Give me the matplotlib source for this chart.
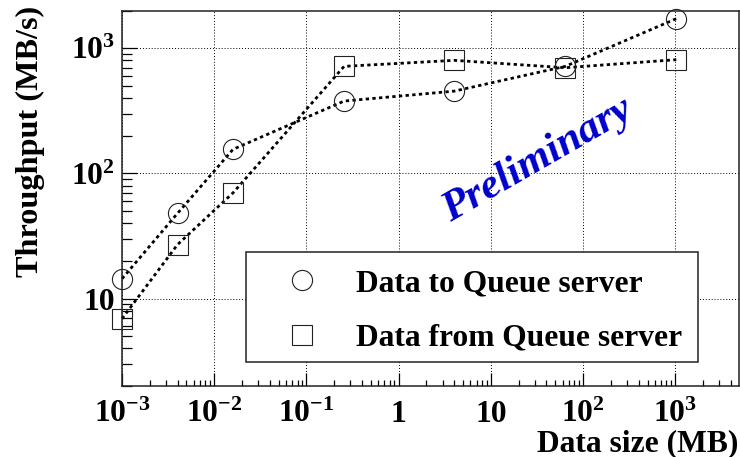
import matplotlib
matplotlib.use("Agg")
import matplotlib.pyplot as plt
import numpy as np
from matplotlib.lines import Line2D
from matplotlib.patches import Rectangle
from matplotlib.ticker import LogLocator, FuncFormatter, NullFormatter

plt.rcParams["font.family"] = ["Liberation Serif", "DejaVu Serif"]
plt.rcParams["font.weight"] = "bold"
plt.rcParams["mathtext.fontset"] = "custom"
plt.rcParams["mathtext.rm"] = "Liberation Serif:bold"
plt.rcParams["mathtext.it"] = "Liberation Serif:bold:italic"
plt.rcParams["mathtext.bf"] = "Liberation Serif:bold"

# data size in MB
data_size = [0.001, 0.004, 0.016, 0.256, 4, 64, 1024]
# throughput in MB/s
to_queue = [14.4, 48, 156, 379, 455, 718, 1727]
from_queue = [6.9, 27, 70, 718, 802, 700, 812]

series_labels = ["Data to Queue server", "Data from Queue server"]

W, H = 740, 457
FS = 22.7


def log_label(v, pos):
    e = int(round(np.log10(v)))
    if e == 0:
        return "1"
    if e == 1:
        return "10"
    return r"$10^{%d}$" % e


fig = plt.figure(figsize=(W / 100, H / 100), dpi=100)
ax = fig.add_axes([122 / W, (H - 386) / H, (739 - 122) / W, (386 - 10.7) / H])

line_style = dict(color="black", linestyle=(0, (1.2, 1.2)), linewidth=2.0)
mark_style = dict(markerfacecolor="none", markeredgecolor="#222222",
                  markeredgewidth=0.8, clip_on=False)

ax.plot(data_size, to_queue, marker="o", markersize=14.5, **line_style, **mark_style)
ax.plot(data_size, from_queue, marker="s", markersize=14, **line_style, **mark_style)

ax.set_xscale("log")
ax.set_yscale("log")
ax.set_xlim(1e-3, 4.9e3)
ax.set_ylim(2.0, 2000)

for axis in (ax.xaxis, ax.yaxis):
    axis.set_major_locator(LogLocator(base=10, numticks=20))
    axis.set_minor_locator(LogLocator(base=10, subs=np.arange(2, 10), numticks=20))
    axis.set_major_formatter(FuncFormatter(log_label))
    axis.set_minor_formatter(NullFormatter())

ax.tick_params(axis="both", which="both", direction="in", top=False, right=False,
               labelsize=FS, colors="black")
ax.tick_params(axis="x", which="major", length=9.5, width=0.9, pad=10)
ax.tick_params(axis="x", which="minor", length=4.3, width=0.9)
ax.tick_params(axis="y", which="major", length=10.8, width=0.9, pad=5)
ax.tick_params(axis="y", which="minor", length=7.5, width=0.9)

ax.grid(True, which="major", color="black", linestyle=(0, (1, 2)), linewidth=0.7)
for s in ax.spines.values():
    s.set_linewidth(1.1)
    s.set_color("#222222")

fig.text(30 / W, 1 - 6 / H, "Throughput (MB/s)", rotation=90, ha="center", va="top",
         fontsize=23.2)
fig.text(738 / W, 1 - 451 / H, "Data size (MB)", ha="right", va="baseline",
         fontsize=FS)

fig.text(538 / W, 1 - 160 / H, "Preliminary", rotation=30, ha="center", va="center",
         rotation_mode="anchor", fontsize=31, fontstyle="italic", color="#0000CC")

# legend box
fig.patches.append(Rectangle((246 / W, 1 - 362 / H), (698 - 246) / W, (362 - 252) / H,
                             transform=fig.transFigure, facecolor="white",
                             edgecolor="#222222", linewidth=1.1, zorder=5))
handles = [
    Line2D([], [], linestyle="none", marker="o", markersize=14.5, markerfacecolor="none",
           markeredgecolor="#222222", markeredgewidth=0.8),
    Line2D([], [], linestyle="none", marker="s", markersize=14, markerfacecolor="none",
           markeredgecolor="#222222", markeredgewidth=0.8),
]
leg = fig.legend(handles, series_labels, loc="center left",
                 bbox_to_anchor=(287 / W, 1 - 311 / H), frameon=False,
                 fontsize=FS, handlelength=0.95, handletextpad=1.25,
                 labelspacing=0.8, borderpad=0, borderaxespad=0)
leg.set_zorder(6)

fig.savefig("out.png", dpi=100)
